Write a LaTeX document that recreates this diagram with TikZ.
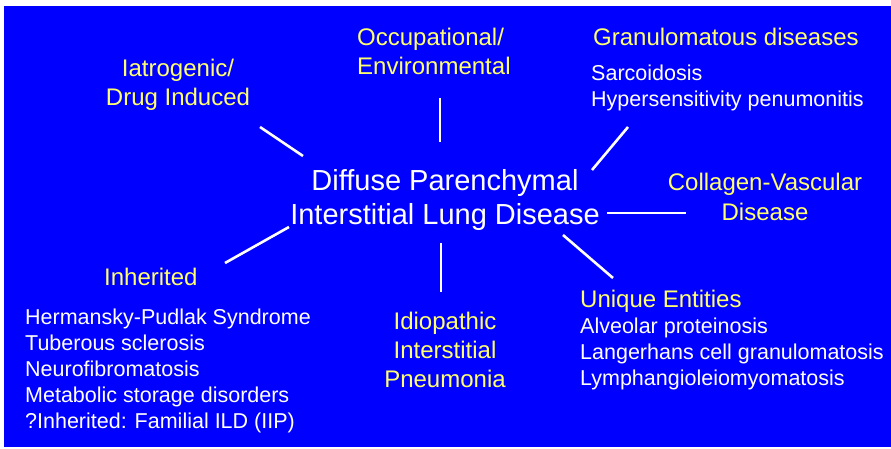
\documentclass[tikz,border=0pt]{standalone}
\usepackage{fontspec}
\setmainfont{Liberation Sans}
\definecolor{bg}{RGB}{0,0,255}
\definecolor{ylw}{RGB}{255,255,110}
\begin{document}
\begin{tikzpicture}[x=1pt,y=-1pt,
  hdr/.style={text=ylw,inner sep=0pt,font=\fontsize{24}{29}\selectfont},
  itm/.style={text=white,inner sep=0pt,font=\fontsize{21.5}{26}\selectfont,align=left},
  ctr/.style={text=white,inner sep=0pt,font=\fontsize{29}{34}\selectfont,align=center},
  spoke/.style={draw=white,line width=2.6pt}]
\useasboundingbox (0,0) rectangle (891,449);
\fill[bg] (4,6) rectangle (891,447);
% centre (base anchor = baseline of last line)
\node[ctr,anchor=base] (main) at (445,225) {Diffuse Parenchymal\\Interstitial Lung Disease};
% categories
\node[hdr,align=center,anchor=base] (iatro) at (178,106) {Iatrogenic/\\Drug Induced};
\node[hdr,align=left,anchor=base west] (occ) at (357,75) {Occupational/\\Environmental};
\node[hdr,anchor=base west] (gran) at (593,46) {Granulomatous diseases};
\node[itm,anchor=base west] (granitems) at (591,107) {Sarcoidosis\\Hypersensitivity penumonitis};
\node[hdr,align=center,anchor=base] (coll) at (765,220) {Collagen-Vascular\\Disease};
\node[hdr,anchor=base west] (inh) at (104,285) {Inherited};
\node[itm,anchor=base west] (inhitems) at (25,428) {Hermansky-Pudlak Syndrome\\Tuberous sclerosis\\Neurofibromatosis\\Metabolic storage disorders\\?Inherited: Familial ILD (IIP)};
\node[hdr,align=center,anchor=base] (iip) at (445,387) {Idiopathic\\Interstitial\\Pneumonia};
\node[hdr,anchor=base west] (uniq) at (580,307) {Unique Entities};
\node[itm,anchor=base west] (uniqitems) at (580,385) {Alveolar proteinosis\\Langerhans cell granulomatosis\\Lymphangioleiomyomatosis};
% spoke end points
\coordinate (a1) at (260,127); \coordinate (a2) at (303,156);
\coordinate (b1) at (440,98);  \coordinate (b2) at (440,142);
\coordinate (c1) at (628,127); \coordinate (c2) at (592,170);
\coordinate (d1) at (607,213); \coordinate (d2) at (686,213);
\coordinate (e1) at (289,227); \coordinate (e2) at (225,263);
\coordinate (f1) at (441,243); \coordinate (f2) at (441,292);
\coordinate (g1) at (563,235); \coordinate (g2) at (613,278);
\draw[spoke] (a1) -- (a2);
\draw[spoke] (b1) -- (b2);
\draw[spoke] (c1) -- (c2);
\draw[spoke] (d1) -- (d2);
\draw[spoke] (e1) -- (e2);
\draw[spoke] (f1) -- (f2);
\draw[spoke] (g1) -- (g2);
\end{tikzpicture}
\end{document}
